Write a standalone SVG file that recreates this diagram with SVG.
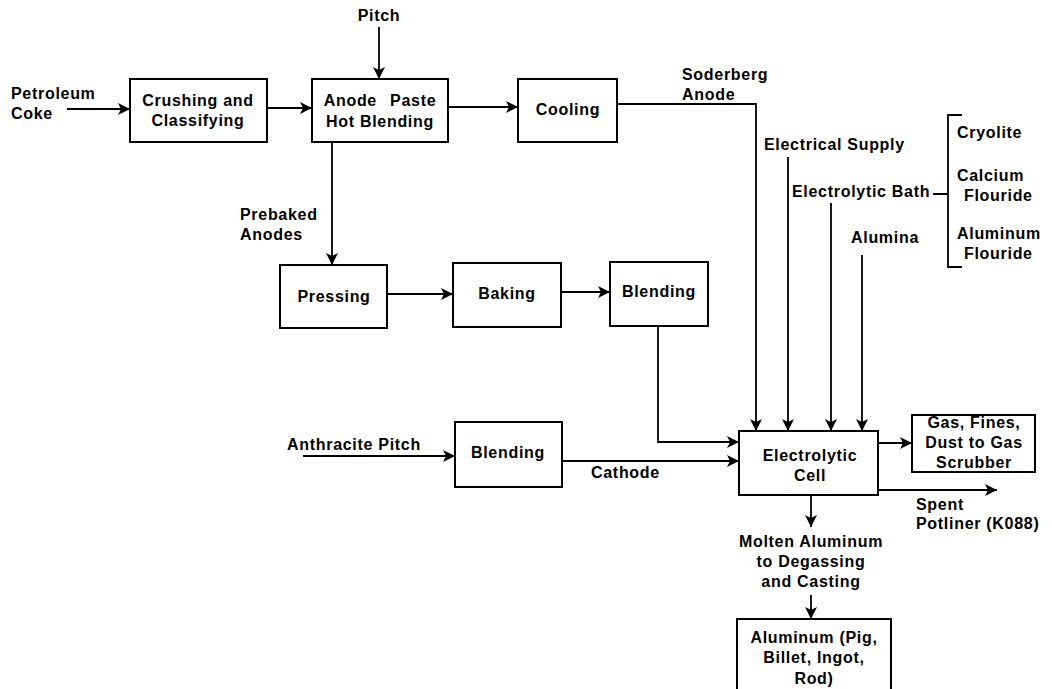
<svg xmlns="http://www.w3.org/2000/svg" width="1052" height="689" viewBox="0 0 1052 689">
<style>
text{font-family:"Liberation Sans",Arial,sans-serif;font-weight:bold;font-size:16px;fill:#000;letter-spacing:0.7px}
.c{text-anchor:middle}
.b{fill:#fff;stroke:#000;stroke-width:2}
.l{fill:none;stroke:#000;stroke-width:1.8}
</style>
<defs>
<marker id="a" markerWidth="12" markerHeight="12" viewBox="0 0 12 12" refX="12" refY="6" orient="auto" markerUnits="userSpaceOnUse">
<path d="M0,0 L12,6 L0,12 L3,6 Z" fill="#000"/>
</marker>
</defs>
<rect width="1052" height="689" fill="#fff"/>
<g id="connectors">
<path class="l" d="M67,109 H130" marker-end="url(#a)"/>
<path class="l" d="M267,108 H312" marker-end="url(#a)"/>
<path class="l" d="M379,27 V79" marker-end="url(#a)"/>
<path class="l" d="M448,107 H518" marker-end="url(#a)"/>
<path class="l" d="M617,104 H756 V431" marker-end="url(#a)"/>
<path class="l" d="M788,157 V431" marker-end="url(#a)"/>
<path class="l" d="M831,203 V431" marker-end="url(#a)"/>
<path class="l" d="M862,255 V431" marker-end="url(#a)"/>
<path class="l" d="M332,142 V265" marker-end="url(#a)"/>
<path class="l" d="M387,294 H453" marker-end="url(#a)"/>
<path class="l" d="M561,292 H610" marker-end="url(#a)"/>
<path class="l" d="M658,326 V442 H739" marker-end="url(#a)"/>
<path class="l" d="M303,456 H455" marker-end="url(#a)"/>
<path class="l" d="M562,461 H739" marker-end="url(#a)"/>
<path class="l" d="M878,443 H912" marker-end="url(#a)"/>
<path class="l" d="M878,490 H997" marker-end="url(#a)"/>
<path class="l" d="M811,495 V527" marker-end="url(#a)"/>
<path class="l" d="M811,595 V619" marker-end="url(#a)"/>
<path class="l" d="M933,194 H948 M962,115 H948 V267 H962"/>
</g>
<g id="petroleum-coke"><text x="11" y="99">Petroleum</text><text x="11" y="119">Coke</text></g>
<g id="crushing"><rect class="b" x="130" y="79" width="137" height="63"/><text class="c" x="198" y="106">Crushing and</text><text class="c" x="198" y="126">Classifying</text></g>
<g id="pitch"><text class="c" x="379" y="21">Pitch</text></g>
<g id="anode-paste"><rect class="b" x="312" y="79" width="136" height="63"/><text class="c" x="380" y="106" style="word-spacing:8px">Anode Paste</text><text class="c" x="380" y="127">Hot Blending</text></g>
<g id="cooling"><rect class="b" x="518" y="79" width="99" height="63"/><text class="c" x="568" y="115">Cooling</text></g>
<g id="soderberg"><text x="682" y="80">Soderberg</text><text x="682" y="100">Anode</text></g>
<g id="electrical-supply"><text x="764" y="150">Electrical Supply</text></g>
<g id="electrolytic-bath"><text x="792" y="197">Electrolytic Bath</text></g>
<g id="alumina"><text x="851" y="243">Alumina</text></g>
<g id="bath-components"><text x="957" y="138">Cryolite</text><text x="957" y="181">Calcium</text><text x="964" y="201">Flouride</text><text x="957" y="239">Aluminum</text><text x="964" y="259">Flouride</text></g>
<g id="prebaked"><text x="240" y="220">Prebaked</text><text x="240" y="240">Anodes</text></g>
<g id="pressing"><rect class="b" x="280" y="265" width="107" height="63"/><text class="c" x="334" y="302">Pressing</text></g>
<g id="baking"><rect class="b" x="453" y="263" width="108" height="64"/><text class="c" x="507" y="299">Baking</text></g>
<g id="blending1"><rect class="b" x="610" y="262" width="98" height="64"/><text class="c" x="659" y="297">Blending</text></g>
<g id="anthracite"><text x="287" y="450">Anthracite Pitch</text></g>
<g id="blending2"><rect class="b" x="455" y="422" width="107" height="65"/><text class="c" x="508" y="458">Blending</text></g>
<g id="cathode"><text x="591" y="478">Cathode</text></g>
<g id="cell"><rect class="b" x="739" y="431" width="139" height="64"/><text class="c" x="810" y="461">Electrolytic</text><text class="c" x="810" y="481">Cell</text></g>
<g id="gas"><rect class="b" x="912" y="415" width="123" height="57"/><text class="c" x="974" y="428">Gas, Fines,</text><text class="c" x="974" y="448">Dust to Gas</text><text class="c" x="974" y="468">Scrubber</text></g>
<g id="spent"><text x="916" y="510">Spent</text><text x="916" y="529">Potliner (K088)</text></g>
<g id="molten"><text class="c" x="811" y="547">Molten Aluminum</text><text class="c" x="811" y="567">to Degassing</text><text class="c" x="811" y="587">and Casting</text></g>
<g id="aluminum"><rect class="b" x="737" y="619" width="154" height="80"/><text class="c" x="814" y="643">Aluminum (Pig,</text><text class="c" x="814" y="663">Billet, Ingot,</text><text class="c" x="814" y="684">Rod)</text></g>
</svg>
